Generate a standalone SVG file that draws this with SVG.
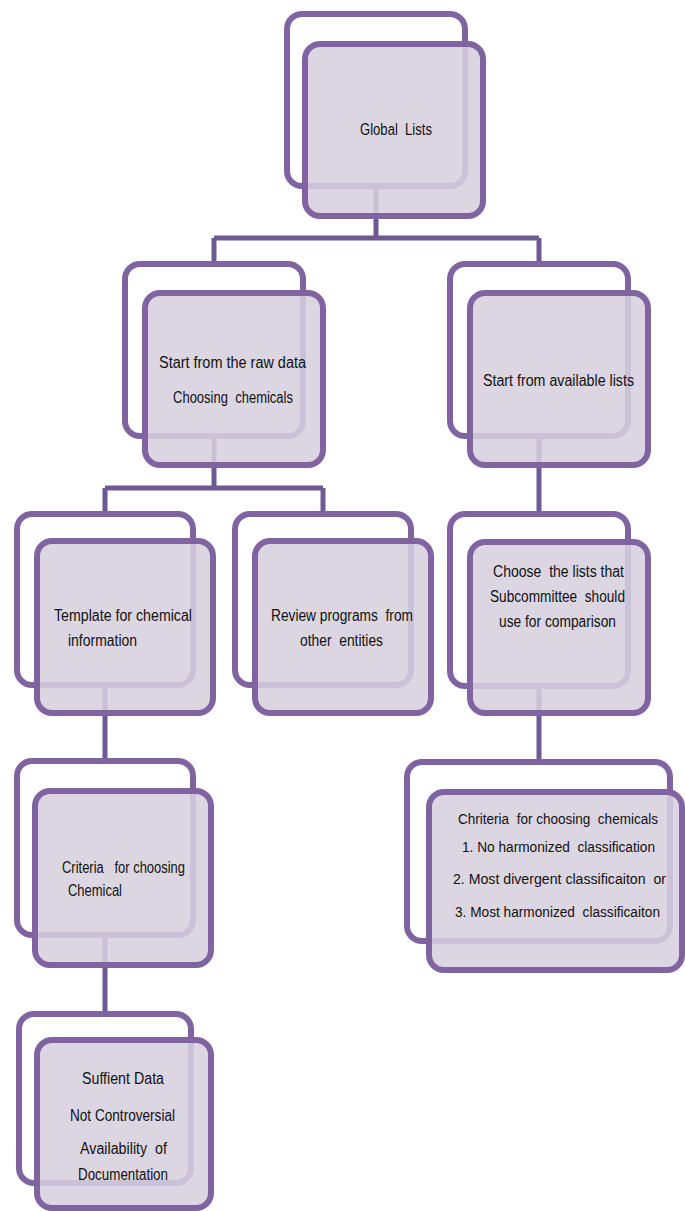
<svg xmlns="http://www.w3.org/2000/svg" width="685" height="1211" viewBox="0 0 685 1211">
<style>
.back{fill:#ffffff;stroke:#8064a2;stroke-width:6}
.front{fill:#d7d0df;fill-opacity:0.87;stroke:#8064a2;stroke-width:6}
.conn{fill:none;stroke:#6e5a92;stroke-width:5}
text{font-family:"Liberation Sans",Arial,sans-serif;font-size:16px;fill:#111111;white-space:pre}
text.sm{font-size:14px}
</style>
<rect width="685" height="1211" fill="#ffffff"/>
<g id="connectors">
<path class="conn" d="M376 186 V238 M214 238 H539 M214 238 V264 M539 238 V264"/>
<path class="conn" d="M214 436 V488 M105 488 H323 M105 488 V514 M323 488 V514"/>
<path class="conn" d="M539 436 V514"/>
<path class="conn" d="M105 685 V761"/>
<path class="conn" d="M539 686 V762"/>
<path class="conn" d="M105 935 V1014"/>
</g>
<g id="node-global">
<rect class="back" x="287" y="14" width="178" height="172" rx="15"/>
<rect class="front" x="305" y="44" width="178" height="172" rx="15"/>
<text x="360" y="135" textLength="72" lengthAdjust="spacingAndGlyphs" xml:space="preserve">Global  Lists</text>
</g>
<g id="node-raw">
<rect class="back" x="125" y="264" width="178" height="172" rx="15"/>
<rect class="front" x="145" y="293" width="178" height="172" rx="15"/>
<text x="159" y="368" textLength="147" lengthAdjust="spacingAndGlyphs">Start from the raw data</text>
<text x="173" y="403" textLength="120" lengthAdjust="spacingAndGlyphs" xml:space="preserve">Choosing  chemicals</text>
</g>
<g id="node-available">
<rect class="back" x="450" y="264" width="178" height="172" rx="15"/>
<rect class="front" x="470" y="293" width="178" height="172" rx="15"/>
<text x="483" y="386" textLength="151" lengthAdjust="spacingAndGlyphs">Start from available lists</text>
</g>
<g id="node-template">
<rect class="back" x="17" y="514" width="176" height="171" rx="15"/>
<rect class="front" x="37" y="541" width="176" height="172" rx="15"/>
<text x="54" y="621" textLength="138" lengthAdjust="spacingAndGlyphs">Template for chemical</text>
<text x="68" y="646" textLength="69" lengthAdjust="spacingAndGlyphs">information</text>
</g>
<g id="node-review">
<rect class="back" x="235" y="514" width="176" height="171" rx="15"/>
<rect class="front" x="255" y="541" width="176" height="172" rx="15"/>
<text x="271" y="621" textLength="142" lengthAdjust="spacingAndGlyphs" xml:space="preserve">Review programs  from</text>
<text x="300" y="646" textLength="83" lengthAdjust="spacingAndGlyphs" xml:space="preserve">other  entities</text>
</g>
<g id="node-choose">
<rect class="back" x="450" y="514" width="178" height="172" rx="15"/>
<rect class="front" x="470" y="542" width="178" height="171" rx="15"/>
<text x="493" y="577" textLength="131" lengthAdjust="spacingAndGlyphs" xml:space="preserve">Choose  the lists that</text>
<text x="490" y="602" textLength="135" lengthAdjust="spacingAndGlyphs" xml:space="preserve">Subcommittee  should</text>
<text x="499" y="627" textLength="117" lengthAdjust="spacingAndGlyphs">use for comparison</text>
</g>
<g id="node-chriteria">
<rect class="back" x="407" y="762" width="263" height="179" rx="15"/>
<rect class="front" x="429" y="792" width="253" height="178" rx="15"/>
<text class="sm" x="458" y="824" textLength="200" lengthAdjust="spacingAndGlyphs" xml:space="preserve">Chriteria  for choosing  chemicals</text>
<text class="sm" x="462" y="852" textLength="193" lengthAdjust="spacingAndGlyphs" xml:space="preserve">1. No harmonized  classification</text>
<text class="sm" x="453" y="884" textLength="213" lengthAdjust="spacingAndGlyphs" xml:space="preserve">2. Most divergent classificaiton  or</text>
<text class="sm" x="455" y="917" textLength="205" lengthAdjust="spacingAndGlyphs" xml:space="preserve">3. Most harmonized  classificaiton</text>
</g>
<g id="node-criteria">
<rect class="back" x="17" y="761" width="176" height="174" rx="15"/>
<rect class="front" x="35" y="791" width="176" height="174" rx="15"/>
<text x="62" y="873" textLength="123" lengthAdjust="spacingAndGlyphs" xml:space="preserve">Criteria   for choosing</text>
<text x="68" y="896" textLength="54" lengthAdjust="spacingAndGlyphs">Chemical</text>
</g>
<g id="node-suffient">
<rect class="back" x="19" y="1014" width="172" height="169" rx="15"/>
<rect class="front" x="37" y="1040" width="174" height="168" rx="15"/>
<text x="82" y="1084" textLength="82" lengthAdjust="spacingAndGlyphs">Suffient Data</text>
<text x="70" y="1121" textLength="105" lengthAdjust="spacingAndGlyphs">Not Controversial</text>
<text x="80" y="1154" textLength="87" lengthAdjust="spacingAndGlyphs" xml:space="preserve">Availability  of</text>
<text x="78" y="1180" textLength="90" lengthAdjust="spacingAndGlyphs">Documentation</text>
</g>
</svg>
